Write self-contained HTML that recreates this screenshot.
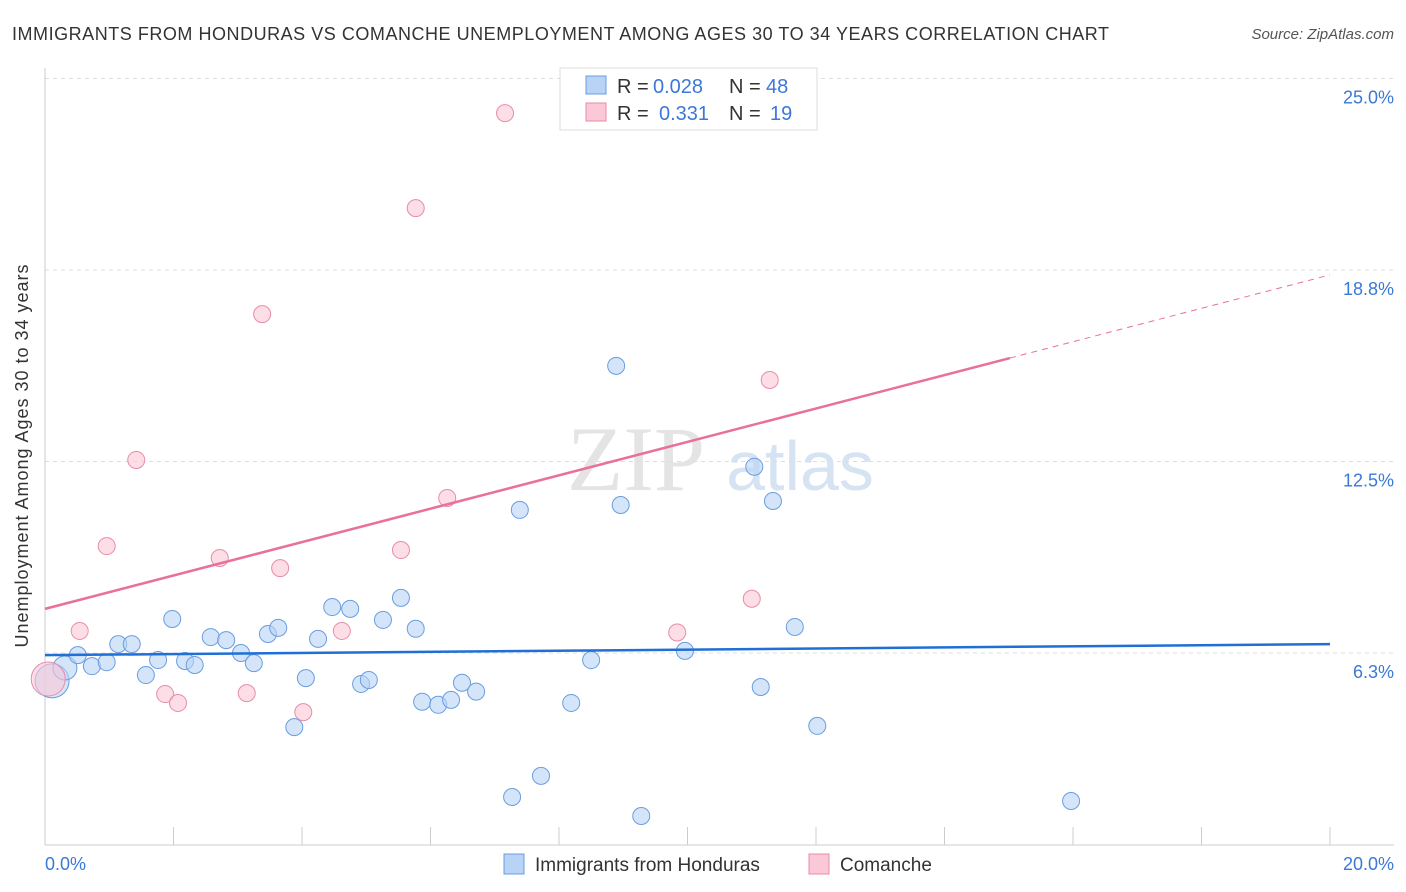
<!DOCTYPE html>
<html><head><meta charset="utf-8"><style>
body{margin:0;background:#fff;font-family:"Liberation Sans",sans-serif}
svg{display:block}
</style></head><body>
<svg width="1406" height="892">
<text x="12" y="40" font-size="18" fill="#333" textLength="1097">IMMIGRANTS FROM HONDURAS VS COMANCHE UNEMPLOYMENT AMONG AGES 30 TO 34 YEARS CORRELATION CHART</text>
<text x="1394" y="39" font-size="15" fill="#555" font-style="italic" text-anchor="end">Source: ZipAtlas.com</text>
<text x="636" y="490" font-size="92" fill="#e4e4e4" font-family="Liberation Serif,serif" text-anchor="middle">ZIP</text>
<text x="800" y="490" font-size="70" fill="#d6e3f3" text-anchor="middle">atlas</text>
<g id="grid"></g>
<g id="axes"></g>
<g id="marks"></g>
<text x="28" y="456" font-size="18" fill="#333" text-anchor="middle" textLength="383" transform="rotate(-90 28 456)">Unemployment Among Ages 30 to 34 years</text>
<text x="45" y="870" font-size="18" fill="#3b78d8">0.0%</text>
<text x="1394" y="870" font-size="18" fill="#3b78d8" text-anchor="end">20.0%</text>
<g>
<rect x="560" y="68" width="257" height="62" fill="#fff" stroke="#ddd"/>
<rect x="586" y="76" width="20" height="18" fill="#b8d3f5" stroke="#6a9de0"/>
<rect x="586" y="103" width="20" height="18" fill="#fbc8d7" stroke="#e88ca8"/>
<text x="617" y="93" font-size="20" fill="#333">R =</text>
<text x="653" y="93" font-size="20" fill="#3b78d8">0.028</text>
<text x="729" y="93" font-size="20" fill="#333">N =</text>
<text x="766" y="93" font-size="20" fill="#3b78d8">48</text>
<text x="617" y="120" font-size="20" fill="#333">R =</text>
<text x="659" y="120" font-size="20" fill="#3b78d8">0.331</text>
<text x="729" y="120" font-size="20" fill="#333">N =</text>
<text x="770" y="120" font-size="20" fill="#3b78d8">19</text>
</g>
<g>
<rect x="504" y="854" width="20" height="20" fill="#b8d3f5" stroke="#6a9de0"/>
<text x="535" y="871" font-size="19" fill="#333">Immigrants from Honduras</text>
<rect x="809" y="854" width="20" height="20" fill="#fbc8d7" stroke="#e88ca8"/>
<text x="840" y="871" font-size="19" fill="#333">Comanche</text>
</g>
</svg>
<script>
const yTicks=[6.25,12.5,18.75,25];
const yTickLabels=["6.3%","12.5%","18.8%","25.0%"];
const blueX=[0.11,0.31,0.51,0.73,0.96,1.14,1.35,1.57,1.76,1.98,2.18,2.33,2.58,2.82,3.05,3.25,3.47,3.63,3.88,4.06,4.25,4.47,4.75,4.92,5.04,5.26,5.54,5.77,5.87,6.12,6.32,6.49,6.71,7.27,7.39,7.72,8.19,8.50,8.89,8.96,9.28,9.96,11.04,11.14,11.33,11.67,12.02,15.97];
const blueY=[5.34,5.76,6.18,5.82,5.95,6.54,6.54,5.53,6.02,7.36,5.99,5.86,6.77,6.67,6.25,5.92,6.87,7.07,3.83,5.43,6.71,7.75,7.69,5.24,5.37,7.33,8.05,7.04,4.66,4.56,4.72,5.28,4.99,1.55,10.92,2.24,4.62,6.02,15.62,11.08,0.93,6.32,12.33,5.14,11.21,7.10,3.87,1.42];
const pinkX=[0.05,0.54,0.96,1.42,1.87,2.07,2.72,3.14,3.38,3.66,4.02,4.62,5.54,5.77,6.26,7.16,9.84,11.00,11.28];
const pinkY=[5.40,6.97,9.74,12.55,4.91,4.62,9.35,4.94,17.31,9.02,4.32,6.97,9.61,20.77,11.31,23.87,6.92,8.02,15.16];
const blueTrend=[6.18,6.54];
const pinkTrend=[7.69,18.59];
const NS="http://www.w3.org/2000/svg";
const X=v=>45+v*64.25, Y=v=>844.5-v*30.64;
function mk(t,a,p){const e=document.createElementNS(NS,t);for(const k in a)e.setAttribute(k,a[k]);p.appendChild(e);return e;}
const grid=document.getElementById('grid'),axes=document.getElementById('axes'),marks=document.getElementById('marks');
yTicks.forEach((t,i)=>{
 const l=mk('line',{x1:45,x2:1394,y1:Y(t),y2:Y(t),stroke:'#ddd','stroke-dasharray':'4,4'},grid);
 
 
 const tx=mk('text',{x:1394,y:Y(t)+25,'font-size':18,fill:'#3b78d8','text-anchor':'end'},grid);
 tx.textContent=yTickLabels[i];
 
 
});
const ax=mk('line',{x1:45,x2:1394,y1:845,y2:845,stroke:'#ccc'},axes);


const ay=mk('line',{x1:45,x2:45,y1:68,y2:845,stroke:'#ccc'},axes);


for(let i=1;i<=10;i++){const t=mk('line',{x1:X(i*2),x2:X(i*2),y1:827,y2:845,stroke:'#ccc'},axes);
 
 }
function dots(xs,ys,fill,stroke,name){xs.forEach((x,i)=>{
 const c=mk('circle',{cx:X(x),cy:Y(ys[i]),r:i<(name=='blue-point'?2:1)?(i==0?17:12):8.5,fill:fill,'fill-opacity':0.6,stroke:stroke,'stroke-width':1},marks);
 
 });}
dots(blueX,blueY,'#b8d3f5','#6a9de0','blue-point');
dots(pinkX,pinkY,'#fbc8d7','#e88ca8','pink-point');
const bl=mk('line',{x1:X(0),y1:Y(blueTrend[0]),x2:X(20),y2:Y(blueTrend[1]),stroke:'#1f6fd6','stroke-width':2.5},marks);


const pm=(v)=>pinkTrend[0]+(pinkTrend[1]-pinkTrend[0])*v/20;
const p1=mk('line',{x1:X(0),y1:Y(pm(0)),x2:X(15.02),y2:Y(pm(15.02)),stroke:'#e8709a','stroke-width':2.5},marks);


const p2=mk('line',{x1:X(15.02),y1:Y(pm(15.02)),x2:X(20),y2:Y(pm(20)),stroke:'#e8709a','stroke-width':1,'stroke-dasharray':'6,5'},marks);


</script>
</body></html>
